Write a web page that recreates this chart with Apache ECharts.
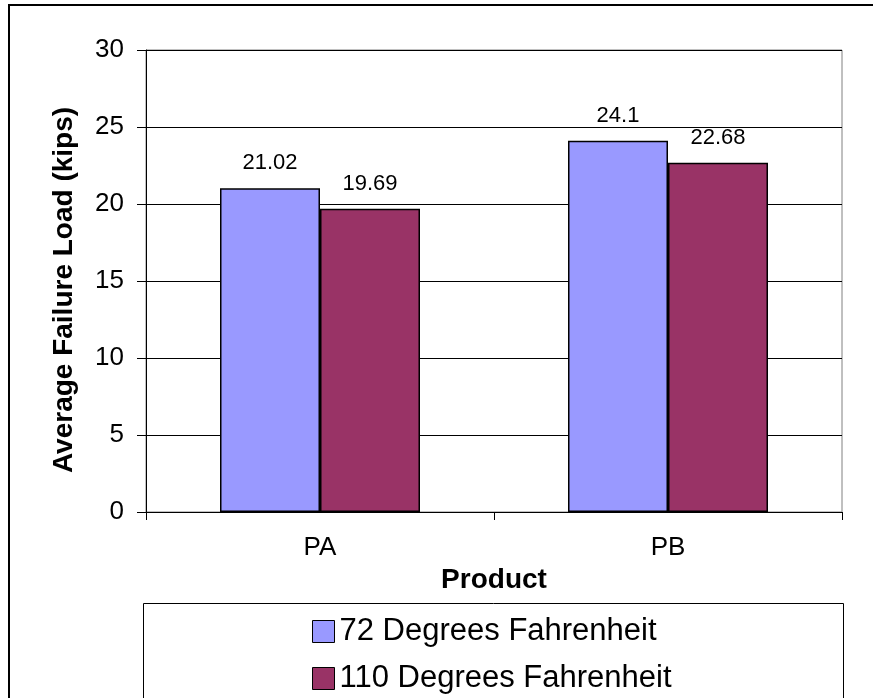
<!DOCTYPE html>
<html>
<head>
<meta charset="utf-8">
<script src="https://cdn.jsdelivr.net/npm/echarts@6/dist/echarts.min.js"></script>
<style>
  html, body { margin: 0; padding: 0; background: #fff; }
  #chart { width: 873px; height: 698px; }
</style>
</head>
<body>
<div id="chart"></div>
<script>
// data
const categories = ['PA', 'PB'];
const seriesNames = ['72 Degrees Fahrenheit', '110 Degrees Fahrenheit'];
const temp72 = [21.02, 24.1];
const temp110 = [19.69, 22.68];
const yTicks = { min: 0, max: 30, step: 5 };

const font = 'Arial, "Liberation Sans", sans-serif';
const colors = ['#9999FF', '#993366'];

const chart = echarts.init(document.getElementById('chart'));

const barLabel = {
  show: true,
  position: 'top',
  distance: 14,
  color: '#000',
  fontSize: 22,
  fontFamily: font
};

const option = {
  backgroundColor: '#fff',
  animation: false,
  textStyle: { fontFamily: font },
  graphic: [
    { // outer frame
      type: 'rect',
      shape: { x: 9, y: 5, width: 900, height: 800 },
      style: { fill: 'none', stroke: '#000', lineWidth: 2 },
      z: 100
    },
    { // legend box
      type: 'rect',
      shape: { x: 143.5, y: 603.5, width: 700, height: 200 },
      style: { fill: '#fff', stroke: '#000', lineWidth: 1 },
      z: 0
    }
  ],
  grid: {
    left: 146, right: 31, top: 50, bottom: 186,
    show: true,
    borderColor: '#808080',
    borderWidth: 1
  },
  legend: {
    orient: 'vertical',
    left: 312,
    top: 616,
    padding: 0,
    height: 82,
    itemWidth: 22,
    itemHeight: 22,
    itemGap: 16,
    icon: 'rect',
    itemStyle: { borderColor: '#000', borderWidth: 1 },
    textStyle: { fontSize: 31, color: '#000', fontFamily: font, lineHeight: 31 },
    data: seriesNames
  },
  xAxis: {
    type: 'category',
    data: categories,
    name: 'Product',
    nameLocation: 'middle',
    nameGap: 46,
    nameTextStyle: { fontSize: 28, fontWeight: 'bold', color: '#000', fontFamily: font },
    axisLine: { lineStyle: { color: '#000', width: 1 } },
    axisTick: { show: true, length: 8, inside: false, lineStyle: { color: '#000' } },
    axisLabel: { fontSize: 26, color: '#000', margin: 23, fontFamily: font }
  },
  yAxis: {
    type: 'value',
    min: yTicks.min,
    max: yTicks.max,
    interval: yTicks.step,
    name: 'Average Failure Load (kips)',
    nameLocation: 'middle',
    nameGap: 68,
    nameTextStyle: { fontSize: 28, fontWeight: 'bold', color: '#000', fontFamily: font, padding: [0, 18, 0, 0] },
    axisLine: { show: true, lineStyle: { color: '#000', width: 1 } },
    axisTick: { show: true, length: 9, inside: false, lineStyle: { color: '#000' } },
    axisLabel: { fontSize: 26, color: '#000', margin: 22, fontFamily: font },
    splitLine: { show: true, lineStyle: { color: '#000', width: 1 } }
  },
  series: [
    {
      name: seriesNames[0],
      type: 'bar',
      data: temp72,
      barWidth: 100,
      barGap: '0%',
      itemStyle: { color: colors[0], borderColor: '#000', borderWidth: 1.5 },
      label: barLabel
    },
    {
      name: seriesNames[1],
      type: 'bar',
      data: temp110,
      barWidth: 100,
      barGap: '0%',
      itemStyle: { color: colors[1], borderColor: '#000', borderWidth: 1.5 },
      label: barLabel
    }
  ]
};

chart.setOption(option);
</script>
</body>
</html>
